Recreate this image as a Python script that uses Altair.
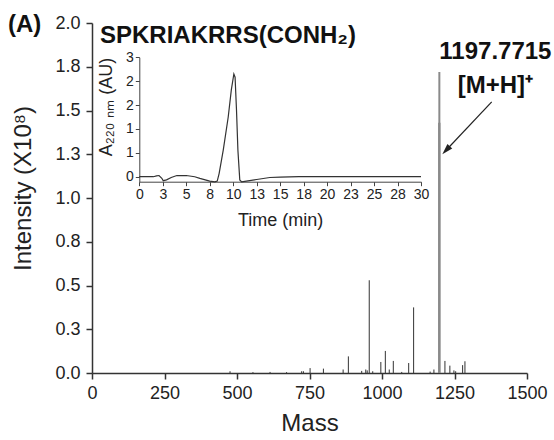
import altair as alt
import pandas as pd

# ---- Mass spectrum (intensity in units of 1e8) ----
peak_mass = [476, 555, 614, 671, 723, 729, 752, 798, 866, 884, 930, 944, 949, 956, 968,
             996, 1011.5, 1025, 1039, 1068, 1092, 1109, 1166, 1179, 1217, 1234, 1248,
             1254, 1278, 1286]
peak_intensity = [0.01, 0.005, 0.006, 0.005, 0.01, 0.01, 0.028, 0.025, 0.02, 0.095, 0.012,
                  0.02, 0.015, 0.53, 0.01, 0.063, 0.126, 0.02, 0.069, 0.006, 0.057, 0.375,
                  0.008, 0.02, 0.069, 0.042, 0.015, 0.01, 0.045, 0.067]
main_mass = [1197.77]
main_intensity = [1.72]
main_lower_intensity = [1.43]

# ---- HPLC chromatogram (inset) ----
time_min = [0, 1.5, 1.84, 2.1, 2.4, 2.55, 2.9, 3.4, 4.0, 5.0, 5.9, 6.45, 7.5, 8.05, 8.3,
            8.5, 8.94, 9.47, 9.8, 10.07, 10.2, 10.35, 10.5, 10.7, 10.9, 11.4, 12.5, 13.9,
            15.0, 17.0, 20.0, 25.0, 30.0]
absorbance = [0, 0, 0.02, 0.03, -0.04, -0.1, -0.08, -0.02, 0.03, 0.03, 0, -0.04, -0.11,
              -0.13, -0.11, 0.08, 0.67, 1.5, 2.18, 2.58, 2.5, 1.68, 0.67, -0.08, -0.13,
              -0.11, -0.07, -0.02, -0.01, 0, 0, 0, 0]

# ---- Axis ticks ----
mass_ticks = [0, 250, 500, 750, 1000, 1250, 1500]
intensity_ticks = [0, 0.25, 0.5, 0.75, 1.0, 1.25, 1.5, 1.75, 2.0]
time_ticks = [0, 2.5, 5, 7.5, 10, 12.5, 15, 17.5, 20, 22.5, 25, 27.5, 30]
abs_ticks = [0, 0.6, 1.2, 1.8, 2.4, 3.0]

# ---- Annotations (data coordinates) ----
left_labels = ["(A)", "SPKRIAKRRS(CONH\u2082)"]
left_label_mass = [-290, 27.6]
left_label_int = [1.95, 1.886]
peak_labels = ["1197.7715", "[M+H]\u207a"]
peak_label_mass = [1391, 1391]
peak_label_int = [1.793, 1.60]
arrow_from = [1378.3, 1.549]
arrow_to = [1221.0, 1.273]

FONT = "Liberation Sans"
W, H = 435, 350

spec_df = pd.DataFrame({"mass": peak_mass, "intensity": peak_intensity})
main_df = pd.DataFrame({"mass": main_mass, "intensity": main_intensity,
                        "lower": main_lower_intensity})
chrom_df = pd.DataFrame({"time": time_min, "abs": absorbance})
left_df = pd.DataFrame({"label": left_labels, "mass": left_label_mass, "intensity": left_label_int})
peak_df = pd.DataFrame({"label": peak_labels, "mass": peak_label_mass, "intensity": peak_label_int})
arrow_df = pd.DataFrame({"mass": [arrow_from[0]], "intensity": [arrow_from[1]],
                         "mass2": [arrow_to[0]], "intensity2": [arrow_to[1]]})

xscale = alt.Scale(domain=[0, 1500], nice=False, zero=False)
yscale = alt.Scale(domain=[0, 2], nice=False, zero=False)

x_axis = alt.Axis(values=mass_ticks, format="d", tickSize=6, labelPadding=5,
                  labelFontSize=18, labelFont=FONT, labelColor="#222", labelFlush=False,
                  labelOverlap=False, title="Mass", titleFont=FONT, titleFontSize=24,
                  titleFontWeight="normal", titleColor="#222", titleX=W / 2, titleY=57,
                  titleBaseline="alphabetic", domainColor="#333", tickColor="#333",
                  domainWidth=1.5, tickWidth=1.5, grid=False)
y_axis = alt.Axis(values=intensity_ticks, format=".1f", tickSize=6, labelPadding=6,
                  labelFontSize=18, labelFont=FONT, labelColor="#222", labelOverlap=False,
                  labelFlush=False,
                  title="Intensity (X10\u2078)", titleFont=FONT, titleFontSize=24,
                  titleFontWeight="normal", titleColor="#222", titleX=-69, titleY=165,
                  titleAngle=270, titleAlign="center", titleBaseline="middle",
                  domainColor="#333", tickColor="#333", domainWidth=1.5, tickWidth=1.5,
                  grid=False)


def X(field):
    return alt.X(field, scale=xscale, axis=x_axis)


def Y(field):
    return alt.Y(field, scale=yscale, axis=y_axis)


spectrum = alt.Chart(spec_df).mark_rule(color="#333", strokeWidth=1).encode(
    x=X("mass:Q"), y=Y("intensity:Q"), y2=alt.datum(0),
)
main_peak = alt.Chart(main_df).mark_rule(color="#8a8a8a", strokeWidth=2).encode(
    x=X("mass:Q"), y=Y("intensity:Q"), y2=alt.datum(0),
)
main_peak_low = alt.Chart(main_df).mark_rule(color="#5e5e5e", strokeWidth=2).encode(
    x=X("mass:Q"), y=Y("lower:Q"), y2=alt.datum(0),
)
arrow_line = alt.Chart(arrow_df).mark_rule(color="#222", strokeWidth=1.2).encode(
    x=X("mass:Q"), y=Y("intensity:Q"), x2="mass2:Q", y2="intensity2:Q",
)
arrow_head = alt.Chart(arrow_df).mark_point(
    shape="M0,-1L0.6,1L-0.6,1Z", filled=True, color="#222", opacity=1,
    size=120, angle=223.4, strokeWidth=0
).encode(
    x=X("mass2:Q"), y=Y("intensity2:Q"),
)
left_text = alt.Chart(left_df).mark_text(
    font=FONT, fontSize=24, fontWeight="bold", align="left", baseline="alphabetic",
    color="#111"
).encode(x=X("mass:Q"), y=Y("intensity:Q"), text="label:N")
peak_text = alt.Chart(peak_df).mark_text(
    font=FONT, fontSize=24, fontWeight="bold", align="center", baseline="alphabetic",
    color="#111"
).encode(x=X("mass:Q"), y=Y("intensity:Q"), text="label:N")

main = alt.layer(spectrum, main_peak_low, main_peak, arrow_line, arrow_head,
                 left_text, peak_text)

# inset placement (pixels within the plot area)
inset_x_range = [47.3, 329.0]
inset_y_range = [158.7, 34.3]

inset = alt.Chart(chrom_df).mark_line(color="#333", strokeWidth=1.2).encode(
    x=alt.X("time:Q", scale=alt.Scale(domain=[0, 30], range=inset_x_range, nice=False,
                                      zero=False),
            axis=alt.Axis(orient="bottom", offset=inset_y_range[0] - H, values=time_ticks,
                          format=".0f", tickSize=4, labelPadding=2, labelFontSize=14,
                          labelFont=FONT, labelColor="#222", labelFlush=False,
                          labelOverlap=False, title="Time (min)", titleFont=FONT,
                          titleFontSize=18, titleFontWeight="normal", titleColor="#222",
                          titleX=(inset_x_range[0] + inset_x_range[1]) / 2, titleY=43.3,
                          titleBaseline="alphabetic", domainColor="#444",
                          tickColor="#444", grid=False)),
    y=alt.Y("abs:Q", scale=alt.Scale(domain=[-0.125, 3], range=inset_y_range, nice=False,
                                     zero=False),
            axis=alt.Axis(orient="left", offset=-inset_x_range[0], values=abs_ticks,
                          format=".0f", tickSize=4, labelPadding=2, labelFontSize=14,
                          labelFont=FONT, labelColor="#222", labelFlush=False,
                          labelOverlap=False, title="A\u2082\u2082\u2080 \u2099\u2098 (AU)",
                          titleFont=FONT, titleFontSize=18, titleFontWeight="normal",
                          titleColor="#222", titleX=-33, titleY=83.5, titleAngle=270,
                          titleAlign="center", titleBaseline="middle",
                          domainColor="#444", tickColor="#444", grid=False)),
    order="time:Q",
)

chart = alt.layer(main, inset).resolve_scale(
    x="independent", y="independent"
).resolve_axis(
    x="independent", y="independent"
).properties(
    width=W, height=H,
    padding={"left": 92, "top": 23, "right": 554 - 92 - W, "bottom": 440 - 23 - H},
    autosize="none",
    background="white",
).configure_view(stroke=None)

chart.save("out.html", embed_options={"renderer": "svg", "actions": False})
